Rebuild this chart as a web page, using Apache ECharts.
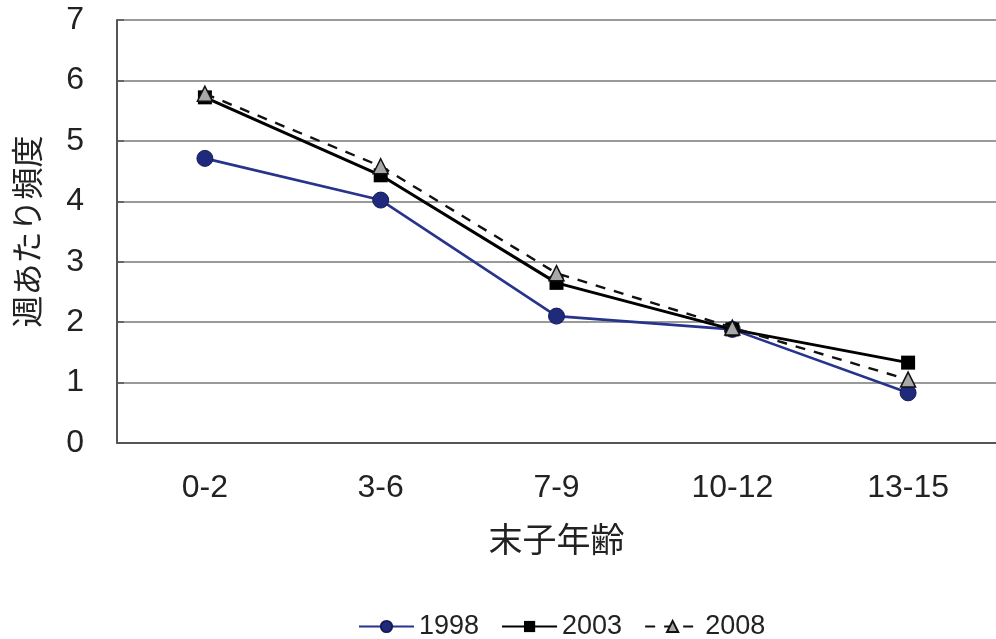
<!DOCTYPE html>
<html>
<head>
<meta charset="utf-8">
<script src="https://cdn.jsdelivr.net/npm/echarts@6/dist/echarts.min.js"></script>
<style>
  html, body { margin: 0; padding: 0; background: #fff; }
  #chart { width: 996px; height: 639px; }
</style>
</head>
<body>
<div id="chart"></div>
<script>
// Age of youngest child (末子年齢) and weekly frequency per survey year
const categories = ['0-2', '3-6', '7-9', '10-12', '13-15'];
const yTicks = [0, 1, 2, 3, 4, 5, 6, 7];
const seriesNames = ['1998', '2003', '2008'];
const values1998 = [4.71, 4.02, 2.10, 1.88, 0.83];
const values2003 = [5.72, 4.43, 2.65, 1.88, 1.33];
const values2008 = [5.78, 4.58, 2.81, 1.91, 1.05];

const numFont = '"Liberation Sans", Arial, sans-serif';
const cjkFont = '"Noto Sans CJK JP", "Noto Sans", sans-serif';

const chart = echarts.init(document.getElementById('chart'), null, { renderer: 'canvas' });

chart.setOption({
  backgroundColor: '#ffffff',
  animation: false,
  grid: { left: 117, right: -6, top: 20, bottom: 196, containLabel: false },
  legend: {
    top: 608,
    left: 353,
    itemWidth: 55,
    itemHeight: 14,
    itemGap: 22,
    textStyle: { fontFamily: numFont, fontSize: 27, color: '#222' },
    data: seriesNames
  },
  xAxis: {
    type: 'category',
    data: categories,
    boundaryGap: true,
    name: '末子年齢',
    nameLocation: 'middle',
    nameGap: 79,
    nameTextStyle: { fontFamily: cjkFont, fontSize: 34, color: '#222' },
    axisLine: { lineStyle: { color: '#555', width: 2 } },
    axisTick: { inside: true, length: 7, lineStyle: { color: '#555', width: 1.5 } },
    axisLabel: { margin: 29, fontFamily: numFont, fontSize: 32, color: '#222' }
  },
  yAxis: {
    type: 'value',
    min: yTicks[0],
    max: yTicks[yTicks.length - 1],
    interval: 1,
    name: '週あたり頻度',
    nameLocation: 'middle',
    nameGap: 74,
    nameRotate: 90,
    nameTextStyle: { fontFamily: cjkFont, fontSize: 32, color: '#222' },
    axisLine: { show: true, lineStyle: { color: '#555', width: 2 } },
    axisTick: { show: true, inside: true, length: 7, lineStyle: { color: '#555', width: 1.5 } },
    axisLabel: { margin: 33, fontFamily: numFont, fontSize: 32, color: '#222' },
    splitLine: { show: true, lineStyle: { color: '#9a9a9a', width: 2 } }
  },
  series: [
    {
      name: seriesNames[0],
      type: 'line',
      data: values1998,
      symbol: 'circle',
      symbolSize: 16,
      itemStyle: { color: '#1f2a7c', borderColor: '#141b55', borderWidth: 1 },
      lineStyle: { color: '#27338c', width: 2.6 },
      z: 3
    },
    {
      name: seriesNames[1],
      type: 'line',
      data: values2003,
      symbol: 'rect',
      symbolSize: 14,
      itemStyle: { color: '#000000' },
      lineStyle: { color: '#000000', width: 3 },
      z: 4
    },
    {
      name: seriesNames[2],
      type: 'line',
      data: values2008,
      symbol: 'triangle',
      symbolSize: 15,
      itemStyle: { color: '#a8a8a8', borderColor: '#111', borderWidth: 1.5 },
      lineStyle: { color: '#111', width: 2.4, type: [10, 9] },
      z: 5
    }
  ]
});
</script>
</body>
</html>
